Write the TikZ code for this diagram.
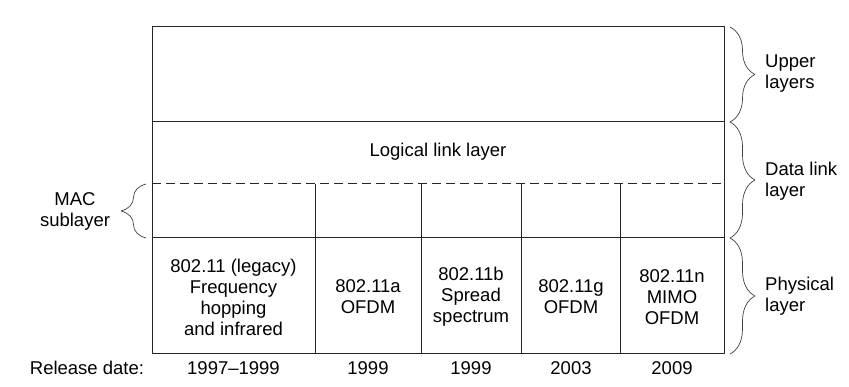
\documentclass[tikz,border=0pt]{standalone}
\usepackage{fontspec}
\setmainfont{Liberation Sans}
\usetikzlibrary{decorations.pathreplacing}
\begin{document}
\begin{tikzpicture}[x=1pt,y=-1pt,line join=bevel,
  txt/.style={align=center,inner sep=0pt,font=\fontsize{18.5}{21}\selectfont},
  side/.style={align=left,anchor=west,inner sep=0pt,font=\fontsize{18.5}{21}\selectfont},
  brc/.style={decorate,decoration={brace,amplitude=25pt},draw=black!75,line width=0.7pt},
  frame/.style={draw=black!85,line width=1pt}]
\useasboundingbox (0,0) rectangle (849,387);
%% layer frame
\coordinate (top_l) at (152,27);
\coordinate (top_r) at (724,27);
\coordinate (upper_r) at (724,122);
\coordinate (mac_l) at (152,184);
\coordinate (phy_l) at (152,238);
\coordinate (phy_r) at (724,238);
\coordinate (bot_r) at (724,354);
\draw[frame] (top_l) rectangle (bot_r);
\draw[frame] (152,122) -- (upper_r);
\draw[frame,dash pattern=on 9pt off 5pt] (mac_l) -- (724,184);
\draw[frame] (phy_l) -- (phy_r);
\foreach \x in {315,421,521,620}
  \draw[frame] (\x,184) -- (\x,354);
%%
\node (llc) at (438,152) [txt] {Logical link layer};
\node (std_0) at (233.5,297) [txt] {802.11 (legacy)\\Frequency\\hopping\\and infrared};
\node (std_1) at (368,297) [txt] {802.11a\\OFDM};
\node (std_2) at (471,297) [txt] {802.11b\\Spread\\spectrum};
\node (std_3) at (571,297) [txt] {802.11g\\OFDM};
\node (std_4) at (672,297) [txt] {802.11n\\MIMO\\OFDM};
%% release dates
\node (rel) at (87,368) [txt] {Release date:};
\node (date_0) at (233.5,368) [txt] {1997--1999};
\node (date_1) at (368,368) [txt] {1999};
\node (date_2) at (471,368) [txt] {1999};
\node (date_3) at (571,368) [txt] {2003};
\node (date_4) at (672,368) [txt] {2009};
%% braces
\draw[brc] (730,27) -- (730,122);
\draw[brc] (730,122) -- (730,238);
\draw[brc] (730,238) -- (730,354);
\draw[brc] (146,238) -- (146,184);
\node (upper) at (765,74) [side] {Upper\\layers};
\node (dll) at (765,181) [side] {Data link\\layer};
\node (phy) at (765,296) [side] {Physical\\layer};
\node (mac) at (75,211) [txt] {MAC\\sublayer};
\end{tikzpicture}
\end{document}
